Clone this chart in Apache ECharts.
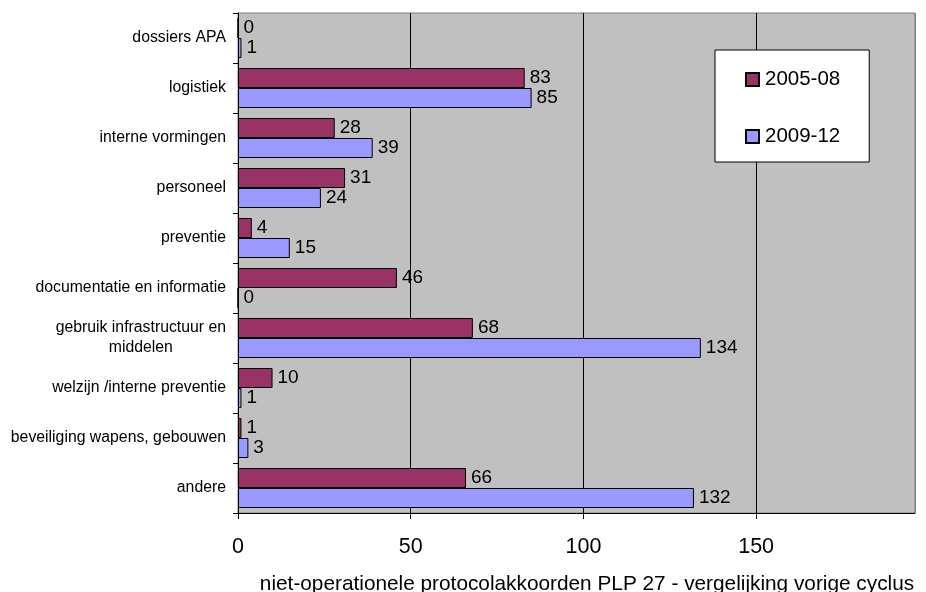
<!DOCTYPE html>
<html>
<head>
<meta charset="utf-8">
<script src="https://cdn.jsdelivr.net/npm/echarts@6/dist/echarts.min.js"></script>
<style>
  html, body { margin: 0; padding: 0; background: #fff; }
  #chart { width: 926px; height: 592px; }
</style>
</head>
<body>
<div id="chart"></div>
<script>
// categorieen, van boven naar onder
var categories = [
    'dossiers APA',
    'logistiek',
    'interne vormingen',
    'personeel',
    'preventie',
    'documentatie en informatie',
    'gebruik infrastructuur en\nmiddelen',
    'welzijn /interne preventie',
    'beveiliging wapens, gebouwen',
    'andere'
];
var values2005 = [0, 83, 28, 31, 4, 46, 68, 10, 1, 66];
var values2009 = [1, 85, 39, 24, 15, 0, 134, 1, 3, 132];
var xTicks = [0, 50, 100, 150];

var font = '"Liberation Sans", Arial, sans-serif';
var myChart = echarts.init(document.getElementById('chart'));

var barLabel = {
    show: true,
    position: 'right',
    distance: 5,
    color: '#000',
    fontSize: 19,
    fontFamily: font
};

myChart.setOption({
    animation: false,
    textStyle: { fontFamily: font },
    grid: {
        left: 238,
        top: 13,
        right: 11,
        bottom: 79,
        outerBoundsMode: 'none',
        containLabel: false,
        show: true,
        backgroundColor: '#C0C0C0',
        borderColor: '#808080',
        borderWidth: 1
    },
    legend: {
        orient: 'vertical',
        left: 715,
        top: 50,
        icon: 'rect',
        backgroundColor: '#fff',
        borderColor: '#000',
        borderWidth: 1,
        padding: [19, 29, 15, 30],
        itemGap: 36,
        itemWidth: 13,
        itemHeight: 13,
        textStyle: { fontSize: 20.5, color: '#000', fontFamily: font, padding: [0, 0, 0, 1] },
        data: ['2005-08', '2009-12']
    },
    xAxis: {
        type: 'value',
        min: 0,
        max: 196,
        interval: 50,
        name: 'niet-operationele protocolakkoorden PLP 27 - vergelijking vorige cyclus',
        nameLocation: 'middle',
        nameGap: 61,
        nameTextStyle: { fontSize: 20.8, color: '#000', padding: [0, 0, 0, 21] },
        axisLine: { show: true, lineStyle: { color: '#000' } },
        axisTick: { show: true, length: 6, lineStyle: { color: '#000' } },
        axisLabel: {
            fontSize: 21.5,
            color: '#000',
            margin: 23,
            showMaxLabel: false,
            formatter: function (v) { return xTicks.indexOf(v) >= 0 ? String(v) : ''; }
        },
        splitLine: {
            show: true,
            lineStyle: { color: ['#000', '#000', '#000', '#000', '#808080'], width: 1 }
        }
    },
    yAxis: {
        type: 'category',
        inverse: true,
        data: categories,
        axisLine: { show: true, lineStyle: { color: '#000' } },
        axisTick: { show: true, length: 5, lineStyle: { color: '#000' } },
        axisLabel: {
            fontSize: 16,
            color: '#000',
            margin: 12,
            formatter: function (v) {
                return v.split('\n').map(function (s) { return '{c|' + s + '}'; }).join('\n');
            },
            rich: {
                c: { align: 'center', fontSize: 15.8, lineHeight: 20, color: '#000', fontFamily: font }
            }
        },
        splitLine: { show: false }
    },
    series: [
        {
            name: '2005-08',
            type: 'bar',
            data: values2005,
            barWidth: 20,
            barGap: '0%',
            itemStyle: { color: '#993366', borderColor: '#000', borderWidth: 1 },
            label: barLabel
        },
        {
            name: '2009-12',
            type: 'bar',
            data: values2009,
            barWidth: 20,
            barGap: '0%',
            itemStyle: { color: '#9999FF', borderColor: '#000', borderWidth: 1 },
            label: barLabel
        }
    ]
});
</script>
</body>
</html>
